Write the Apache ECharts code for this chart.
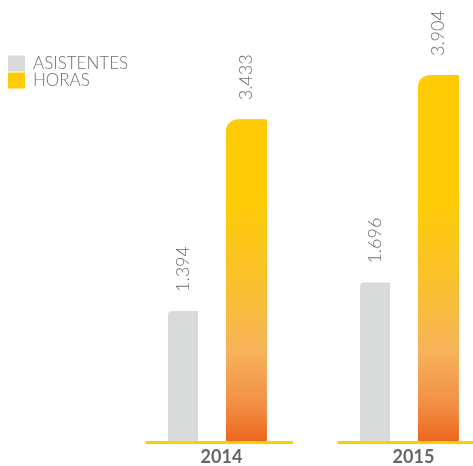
<!DOCTYPE html>
<html>
<head>
<meta charset="utf-8">
<script src="https://cdn.jsdelivr.net/npm/echarts@6/dist/echarts.min.js"></script>
<style>
  html, body { margin: 0; padding: 0; background: #fff; }
  #chart { width: 473px; height: 466px; }
</style>
</head>
<body>
<div id="chart"></div>
<script>
const years = ['2014', '2015'];
const asistentes = [1394, 1696];
const horas = [3433, 3904];

// 1394 -> "1.394"
function fmt(v) {
  return String(v).replace(/\B(?=(\d{3})+(?!\d))/g, '.');
}

const chart = echarts.init(document.getElementById('chart'));

const labelStyle = {
  show: true,
  position: 'top',
  rotate: 90,
  align: 'left',
  verticalAlign: 'middle',
  distance: 19,
  color: '#6e6e6e',
  fontFamily: 'Lato',
  fontWeight: 300,
  fontSize: 18,
  formatter: p => fmt(p.value)
};

chart.setOption({
  animation: false,
  legend: {
    orient: 'vertical',
    left: 8,
    top: 55,
    padding: 0,
    itemWidth: 17,
    itemHeight: 16,
    itemGap: 0,
    icon: 'rect',
    textStyle: { color: '#6e6e6e', fontFamily: 'Lato', fontWeight: 300, fontSize: 17, padding: [0, 0, 0, 3] },
    data: [
      { name: 'ASISTENTES', itemStyle: { color: '#d9dada' } },
      { name: 'HORAS', itemStyle: { color: '#ffcc00' } }
    ]
  },
  // the second year's band runs past the right edge, so let the grid overflow
  grid: { left: 121.5, width: 384, top: 66, bottom: 24, outerBoundsMode: 'none', containLabel: false },
  xAxis: {
    type: 'category',
    data: years,
    axisLine: { show: false },
    axisTick: { show: false },
    axisLabel: {
      color: '#666',
      fontFamily: 'Lato',
      fontWeight: 'bold',
      fontSize: 18,
      margin: 6,
      padding: [0, 0, 0, 8]
    }
  },
  yAxis: { type: 'value', min: 0, max: 4000, show: false },
  series: [
    {
      name: 'ASISTENTES',
      type: 'bar',
      data: asistentes,
      barWidth: 30,
      barGap: '93%',
      itemStyle: { color: '#d9dada', borderRadius: [4, 0, 0, 0] },
      label: labelStyle
    },
    {
      name: 'HORAS',
      type: 'bar',
      data: horas,
      barWidth: 41,
      barGap: '93%',
      itemStyle: {
        borderRadius: [12, 0, 0, 0],
        color: new echarts.graphic.LinearGradient(0, 200, 0, 442, [
          { offset: 0, color: '#fecb05' },
          { offset: 0.4, color: '#f9be34' },
          { offset: 0.62, color: '#f7b35a' },
          { offset: 0.83, color: '#f29247' },
          { offset: 1, color: '#ec671c' }
        ], true)
      },
      label: labelStyle
    },
    {
      // yellow baseline under each year
      name: 'base',
      type: 'custom',
      z: 5,
      silent: true,
      clip: false,
      data: years.map((y, i) => [i, 0]),
      renderItem: function (params, api) {
        const p = api.coord([api.value(0), 0]);
        return {
          type: 'line',
          shape: { x1: p[0] - 72, y1: p[1] + 0.5, x2: p[0] + 75.5, y2: p[1] + 0.5 },
          style: { stroke: '#fdd000', lineWidth: 3 }
        };
      }
    }
  ]
});
</script>
</body>
</html>
